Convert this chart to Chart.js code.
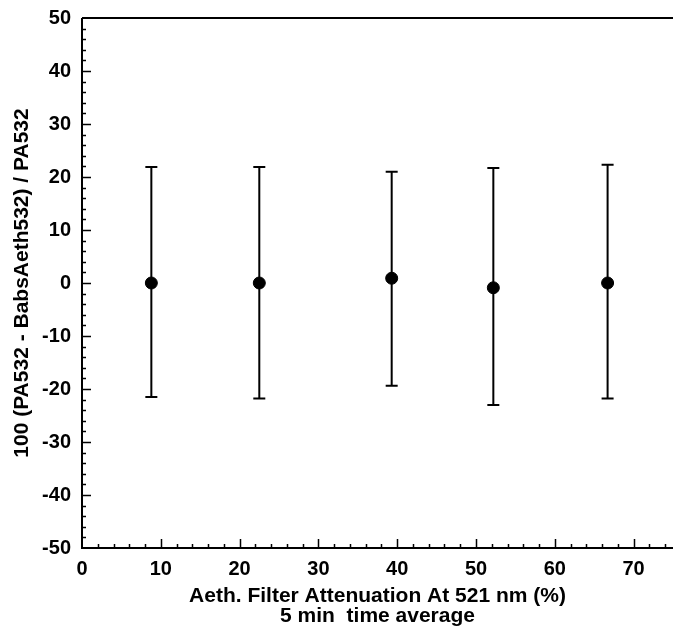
<!DOCTYPE html>
<html>
<head>
<meta charset="utf-8">
<script src="https://cdn.jsdelivr.net/npm/chart.js@4.4.0/dist/chart.umd.min.js"></script>
<style>
  html, body { margin: 0; padding: 0; background: #fff; overflow: hidden; }
  #wrap { width: 680px; height: 630px; }
</style>
</head>
<body>
<div id="wrap"><canvas id="chart"></canvas></div>
<script>
// values
const attenuation = [8.8, 22.5, 39.3, 52.2, 66.7];
const meanDiff = [0.0, 0.0, 0.9, -0.9, 0.0];
const upperBar = [21.9, 21.9, 21.0, 21.7, 22.3];
const lowerBar = [-21.5, -21.8, -19.4, -23.0, -21.8];

const xTitle = ['Aeth. Filter Attenuation At 521 nm (%)', '5 min  time average'];
const yTitle = '100 (PA532 - BabsAeth532) / PA532';
const majorStep = 10;
const minorStep = 2;

const tickFont = { family: '"Liberation Sans", Arial, sans-serif', weight: 'bold', size: 20, lineHeight: 1.2 };
const titleFont = { family: '"Liberation Sans", Arial, sans-serif', weight: 'bold', size: 21, lineHeight: 0.95 };

// error bars drawn from the arrays above
const errorBars = {
    id: 'errorBars',
    afterDatasetsDraw(chart) {
        const ctx = chart.ctx;
        const xs = chart.scales.x, ys = chart.scales.y;
        ctx.save();
        ctx.strokeStyle = '#000';
        ctx.lineWidth = 2;
        attenuation.forEach((x, i) => {
            const px = xs.getPixelForValue(x);
            const top = ys.getPixelForValue(upperBar[i]);
            const bot = ys.getPixelForValue(lowerBar[i]);
            ctx.beginPath();
            ctx.moveTo(px, top); ctx.lineTo(px, bot);
            ctx.moveTo(px - 6, top); ctx.lineTo(px + 6, top);
            ctx.moveTo(px - 6, bot); ctx.lineTo(px + 6, bot);
            ctx.stroke();
        });
        ctx.restore();
    }
};

// inward ticks and frame lines
const frame = {
    id: 'frame',
    afterDraw(chart) {
        const ctx = chart.ctx;
        const a = chart.chartArea;
        const xs = chart.scales.x, ys = chart.scales.y;
        ctx.save();
        ctx.strokeStyle = '#000';
        ctx.lineWidth = 2;
        ctx.beginPath();
        ctx.moveTo(a.left, a.top); ctx.lineTo(a.right, a.top);
        ctx.moveTo(a.left, a.top); ctx.lineTo(a.left, a.bottom);
        ctx.lineTo(a.right, a.bottom);
        ctx.stroke();
        ctx.lineWidth = 1.5;
        ctx.beginPath();
        for (let v = xs.min + minorStep; v < xs.max; v += minorStep) {
            const px = Math.round(xs.getPixelForValue(v)) + 0.5;
            const len = v % majorStep === 0 ? 9 : 4;
            ctx.moveTo(px, a.bottom); ctx.lineTo(px, a.bottom - len);
        }
        for (let v = ys.min + minorStep; v < ys.max; v += minorStep) {
            const py = Math.round(ys.getPixelForValue(v)) + 0.5;
            const len = v % majorStep === 0 ? 9 : 4;
            ctx.moveTo(a.left, py); ctx.lineTo(a.left + len, py);
        }
        ctx.stroke();
        ctx.restore();
    }
};

new Chart(document.getElementById('chart').getContext('2d'), {
    type: 'scatter',
    data: {
        datasets: [{
            data: attenuation.map((x, i) => ({ x: x, y: meanDiff[i] })),
            backgroundColor: '#000',
            borderColor: '#000',
            pointRadius: 6,
            pointHoverRadius: 6
        }]
    },
    options: {
        responsive: true,
        maintainAspectRatio: false,
        animation: false,
        layout: { padding: { top: 18, left: 0, right: 2, bottom: 0 } },
        plugins: {
            legend: { display: false },
            tooltip: { enabled: false }
        },
        scales: {
            x: {
                type: 'linear',
                min: 0,
                max: 75,
                afterBuildTicks(axis) {
                    axis.ticks = axis.ticks.filter(t => t.value % majorStep === 0);
                },
                afterFit(axis) {
                    axis.height = 82;
                    axis.paddingLeft = 0;
                    axis.paddingRight = 0;
                },
                grid: { display: false, drawTicks: false },
                border: { display: false },
                ticks: { stepSize: majorStep, color: '#000', font: tickFont, padding: 9, maxRotation: 0 },
                title: { display: true, text: xTitle, color: '#000', font: titleFont, padding: { top: 0, bottom: 4 } }
            },
            y: {
                min: -50,
                max: 50,
                afterFit(axis) {
                    axis.width = 82;
                    axis.paddingTop = 0;
                    axis.paddingBottom = 0;
                },
                grid: { display: false, drawTicks: false },
                border: { display: false },
                ticks: { stepSize: majorStep, color: '#000', font: tickFont, padding: 11 },
                title: { display: true, text: yTitle, color: '#000', font: titleFont, padding: { top: 12, bottom: 4 } }
            }
        }
    },
    plugins: [errorBars, frame]
});
</script>
</body>
</html>
